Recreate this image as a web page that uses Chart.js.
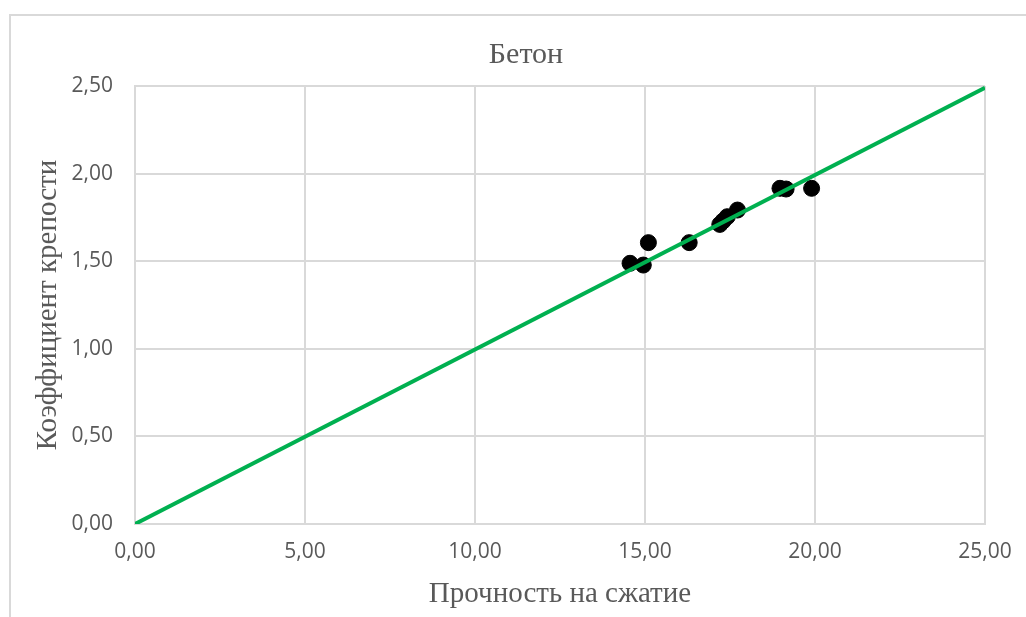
<!DOCTYPE html>
<html>
<head>
<meta charset="utf-8">
<script src="https://cdn.jsdelivr.net/npm/chart.js@4"></script>
<style>
    html, body { margin: 0; padding: 0; background: #fff; overflow: hidden; }
    #wrap { position: relative; width: 1026px; height: 617px; }
    #rama { position: absolute; left: 9px; top: 14px; width: 1100px; height: 700px; border-top: 2px solid #d9d9d9; border-left: 2px solid #d9d9d9; }
    #miGrafico { position: absolute; left: 0; top: 0; }
</style>
</head>
<body>
<div id="wrap">
    <div id="rama"></div>
    <canvas id="miGrafico" width="1026" height="617"></canvas>
</div>
<script>
// Datos: resistencia a compresión vs coeficiente de fortaleza
const prochnost = [14.56, 14.95, 15.10, 16.30, 17.20, 17.30, 17.42, 17.72, 18.97, 19.15, 19.90];
const koefficient = [1.488, 1.478, 1.606, 1.606, 1.710, 1.730, 1.754, 1.792, 1.916, 1.912, 1.916];

// Línea de tendencia
const lineaX = [0, 25];
const lineaY = [0, 2.49];

const titulo = 'Бетон';
const tituloX = 'Прочность на сжатие';
const tituloY = 'Коэффициент крепости';

const formato = v => Number(v).toFixed(2).replace('.', ',');

const tituloPlugin = {
    id: 'tituloPlugin',
    afterDraw(chart) {
        const c = chart.ctx;
        c.save();
        c.font = '30px "Liberation Serif"';
        c.fillStyle = '#595959';
        c.textAlign = 'center';
        c.textBaseline = 'middle';
        c.fillText(titulo, 526, 55);
        c.restore();
    }
};

const ctx = document.getElementById('miGrafico').getContext('2d');
const miGrafico = new Chart(ctx, {
    type: 'scatter',
    data: {
        datasets: [{
            data: lineaX.map((x, i) => ({ x: x, y: lineaY[i] })),
            showLine: true,
            borderColor: '#00b050',
            borderWidth: 4,
            pointRadius: 0
        }, {
            data: prochnost.map((x, i) => ({ x: x, y: koefficient[i] })),
            backgroundColor: '#000',
            borderColor: '#000',
            pointRadius: 8,
            pointHoverRadius: 8
        }]
    },
    options: {
        responsive: false,
        animation: false,
        layout: { padding: { left: 0, right: 41, top: 86, bottom: 0 } },
        plugins: {
            legend: { display: false },
            tooltip: { enabled: false }
        },
        scales: {
            x: {
                min: 0,
                max: 25,
                ticks: {
                    stepSize: 5,
                    padding: 15,
                    color: '#595959',
                    font: { family: 'Open Sans', size: 21 },
                    callback: v => formato(v)
                },
                grid: { color: '#d9d9d9', lineWidth: 2, drawTicks: false },
                border: { color: '#d9d9d9', width: 2 },
                title: {
                    display: true,
                    text: tituloX,
                    color: '#595959',
                    font: { family: 'Liberation Serif', size: 29 },
                    padding: { top: 0, bottom: 5 }
                },
                afterFit(scale) {
                    scale.height = 93;
                    scale.paddingLeft = 0;
                    scale.paddingRight = 0;
                }
            },
            y: {
                min: 0,
                max: 2.5,
                ticks: {
                    stepSize: 0.5,
                    padding: 22,
                    color: '#595959',
                    font: { family: 'Open Sans', size: 21 },
                    callback: v => formato(v)
                },
                grid: { color: '#d9d9d9', lineWidth: 2, drawTicks: false },
                border: { color: '#d9d9d9', width: 2 },
                title: {
                    display: true,
                    text: tituloY,
                    color: '#595959',
                    font: { family: 'Liberation Serif', size: 29 },
                    padding: { top: 31, bottom: 0 }
                },
                afterFit(scale) {
                    scale.width = 135;
                    scale.paddingTop = 0;
                    scale.paddingBottom = 0;
                }
            }
        }
    },
    plugins: [tituloPlugin]
});
</script>
</body>
</html>
